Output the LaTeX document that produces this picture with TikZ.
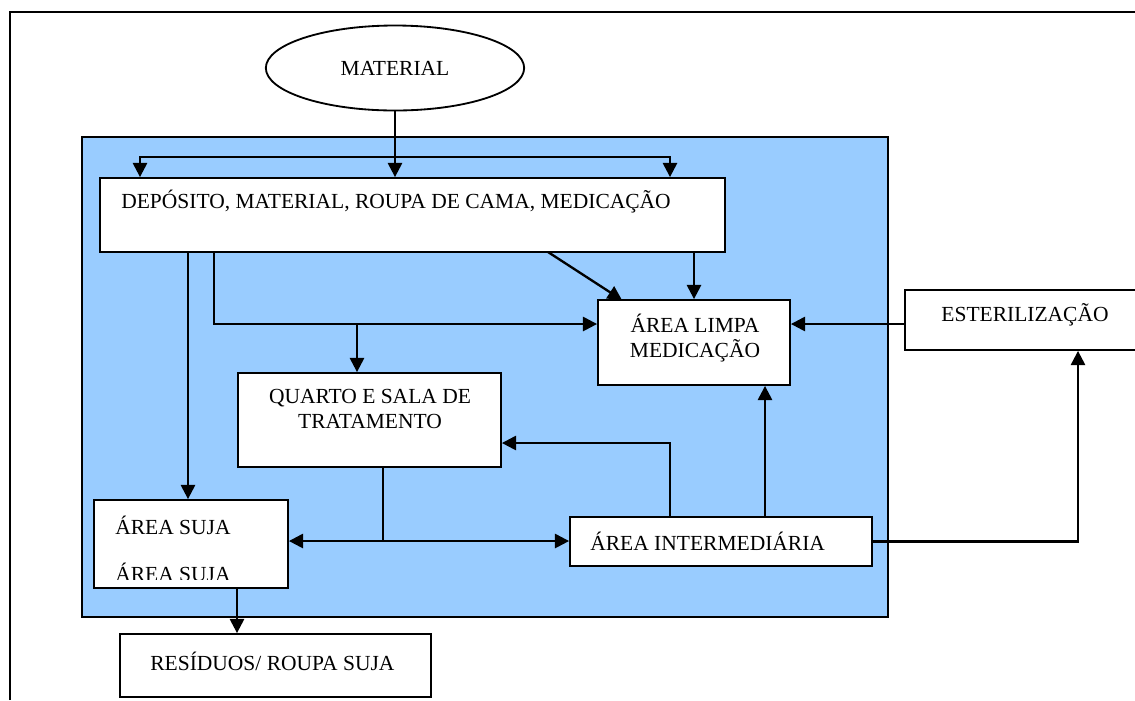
\documentclass[tikz,border=0pt]{standalone}
\usepackage{fontspec}
\setmainfont{Liberation Serif}
\usetikzlibrary{shapes.geometric,fit,arrows.meta}
\definecolor{areablue}{HTML}{99CCFF}
\tikzset{
  caixa/.style={draw, fill=white, line width=1.1pt, inner sep=0pt},
  linha/.style={line width=1.4pt},
  seta/.style={line width=1.4pt, -{Triangle[length=8.5pt,width=8.5pt]}},
  setas/.style={line width=1.4pt, {Triangle[length=8.5pt,width=8.5pt]}-{Triangle[length=8.5pt,width=8.5pt]}},
  rotulo/.style={inner sep=0pt, align=center, font=\fontsize{12.9}{14.6}\selectfont},
}
\begin{document}
\begin{tikzpicture}[x=0.6pt, y=-0.6pt]
\useasboundingbox (0,0) rectangle (1135,700);
\draw[line width=1.3pt] (10,700) -- (10,12) -- (1140,12);
\node[draw, line width=1.1pt, ellipse, minimum width=155pt, minimum height=51pt, font=\fontsize{12.9}{14.6}\selectfont] (M) at (395,68) {MATERIAL};
\node[draw, fill=areablue, line width=1.1pt, inner sep=0pt, fit={(82,137) (888,617)}] (UNID) {};

\node[caixa, fit={(100,178) (725,252)}] (DEP) {};
\node[rotulo, anchor=west] (DEPt) at (121,202) {DEPÓSITO, MATERIAL, ROUPA DE CAMA, MEDICAÇÃO};
\node[caixa, fit={(598,300) (790,385)}] (LIMPA) {};
\node[rotulo] (LIMPAt) at (695,338) {ÁREA LIMPA\\MEDICAÇÃO};
\node[caixa, fit={(905,290) (1140,350)}] (ESTER) {};
\node[rotulo] (ESTERt) at (1025,315) {ESTERILIZAÇÃO};
\node[caixa, fit={(238,373) (501,467)}] (QUARTO) {};
\node[rotulo] (QUARTOt) at (370,409) {QUARTO E SALA DE\\TRATAMENTO};
\node[caixa, fit={(94,500) (288,588)}] (SUJA) {};
\node[rotulo, anchor=west] (SUJAt) at (115,525) {ÁREA SUJA};
\begin{scope}
\clip (94,500) rectangle (288,579);
\node[rotulo, anchor=west] (SUJAt2) at (115,572) {ÁREA SUJA};
\end{scope}
\node[caixa, fit={(570,517) (872,566)}] (INTER) {};
\node[rotulo, anchor=west] (INTERt) at (590,541) {ÁREA INTERMEDIÁRIA};
\node[caixa, fit={(120,634) (431,697)}] (RES) {};
\node[rotulo, anchor=west] (RESt) at (150,661) {RESÍDUOS/ ROUPA SUJA};

\coordinate (distE) at (140,157);
\coordinate (distD) at (670,157);
\coordinate (p1) at (188,252);
\coordinate (p2) at (214,252);
\coordinate (k) at (357,324);
\coordinate (p4) at (548,252);
\coordinate (q4) at (622,300);
\coordinate (p7) at (670,443);
\coordinate (p8) at (765,0);
\coordinate (p9) at (1078,0);
\coordinate (p10) at (383,541);
\coordinate (p11) at (237,0);

\draw[seta] (M.south) -- (M.south |- DEP.north);
\draw[setas] (distE |- DEP.north) -- (distE) -- (distD) -- (distD |- DEP.north);
\draw[seta] (p1) -- (p1 |- SUJA.north);
\draw[seta] (p2) |- (k -| LIMPA.west);
\draw[seta] (k) -- (k |- QUARTO.north);
\draw[seta] (p4) -- (q4);
\draw[seta] (LIMPA.north |- DEP.south) -- (LIMPA.north);
\draw[seta] (ESTER.west |- k) -- (LIMPA.east |- k);
\draw[seta] (p7 |- INTER.north) -- (p7) -- (p7 -| QUARTO.east);
\draw[seta] (p8 |- INTER.north) -- (p8 |- LIMPA.south);
\draw[seta] (INTER.east) -| (p9 |- ESTER.south);
\draw[linha] (p10 |- QUARTO.south) -- (p10);
\draw[setas] (p10 -| SUJA.east) -- (p10 -| INTER.west);
\draw[seta] (p11 |- SUJA.south) -- (p11 |- RES.north);
\end{tikzpicture}
\end{document}
